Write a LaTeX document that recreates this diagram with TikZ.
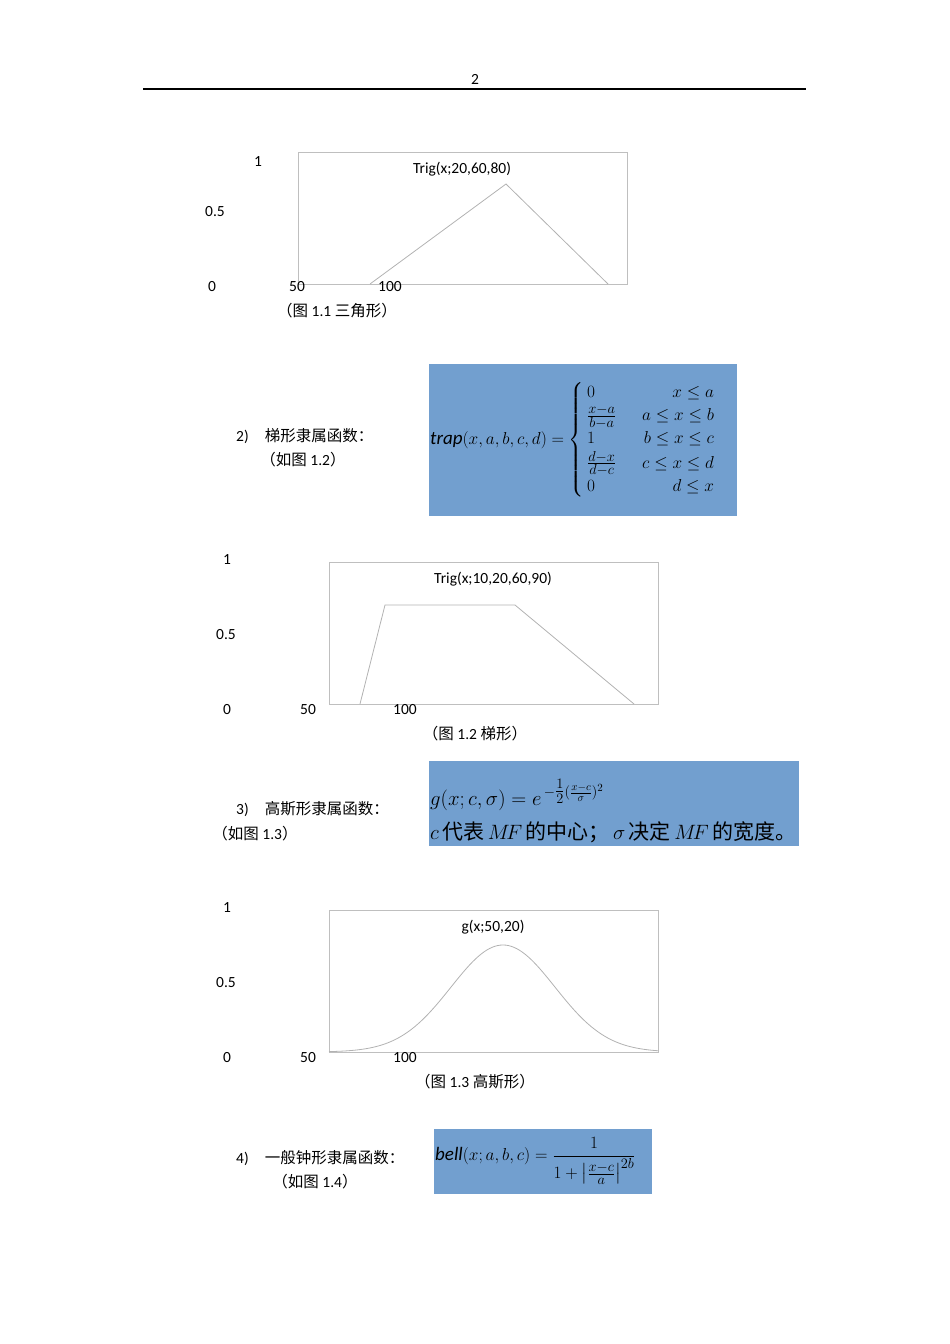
\documentclass[tikz,border=0pt]{standalone}
\usepackage{amsmath}
\usepackage{fontspec}
\setmainfont{Carlito}
\newfontfamily\cjk{Noto Sans CJK SC}
\tikzset{lab/.style={font=\fontsize{15.5}{17}\selectfont,inner sep=0pt},
 frame/.style={draw=black!25,line width=0.8pt},
 curve/.style={draw=black!30,line width=0.8pt},
 capt/.style={font=\fontsize{15.5}{17}\selectfont,inner sep=0pt}}
\definecolor{blueF}{RGB}{114,159,207}
\begin{document}
\begin{tikzpicture}[x=1pt,y=-1pt]
\useasboundingbox (0,0) rectangle (950,1344);
\node[lab] (pg) at (475,79) {2};
\coordinate (hl) at (143,89); \coordinate (hr) at (806,89);
\draw[line width=1.2pt] (hl) -- (hr);
% chart 1
\draw[frame] (298,152) rectangle (627,284);
\node[lab] (a1) at (258,162) {1};
\node[lab] (a2) at (215,212) {0.5};
\node[lab] (a3) at (212,287) {0};
\node[lab] (a4) at (297,287) {50};
\node[lab] (a5) at (390,287) {100};
\node[lab] (t1) at (462,169) {Trig(x;20,60,80)};
\draw[curve] (370,284) -- (506,184) -- (608,284);
\node[capt] (c1) at (337,311) {{\cjk （图} 1.1 {\cjk 三角形）}};
% box 2
\fill[blueF] (429,364) rectangle (737,516);
\node[inner sep=0pt,anchor=west] (f2) at (430,440) {\fontsize{19}{22}\selectfont $\mathit{trap}(x,a,b,c,d)=\left\{\begin{array}{@{\,}l@{\hspace{26pt}}r@{}} 0 & x\le a\\[1pt] \frac{x-a}{b-a} & a\le x\le b\\[1pt] 1 & b\le x\le c\\[1pt] \frac{d-x}{d-c} & c\le x\le d\\[1pt] 0 & d\le x\end{array}\right.$};
\node[lab,anchor=west] (l2) at (236,436) {2)\hspace{16pt}{\cjk 梯形隶属函数：}};
\node[lab] (l2b) at (303,460) {{\cjk （如图} 1.2{\cjk ）}};
% chart 2
\draw[frame] (329,562) rectangle (658,704);
\node[lab] (b1) at (227,560) {1};
\node[lab] (b2) at (226,635) {0.5};
\node[lab] (b3) at (227,710) {0};
\node[lab] (b4) at (308,710) {50};
\node[lab] (b5) at (405,710) {100};
\node[lab] (t2) at (493,579) {Trig(x;10,20,60,90)};
\draw[curve] (360,704) -- (385,605) -- (515,605) -- (634,704);
\node[capt] (c2) at (475,734) {{\cjk （图} 1.2 {\cjk 梯形）}};
% box 3
\fill[blueF] (429,761) rectangle (799,846);
\node[inner sep=0pt,anchor=west] (f3) at (430,795) {\fontsize{22}{24}\selectfont $g(x;c,\sigma)=e^{\,-\tfrac{1}{2}(\frac{x-c}{\sigma})^2}$};
\node[inner sep=0pt,anchor=west] (f3b) at (430,832) {\fontsize{21}{24}\selectfont $c$\,{\cjk 代表}$\,M\!F\,${\cjk 的中心；}\,$\sigma$\,{\cjk 决定}$\,M\!F\,${\cjk 的宽度。}};
\node[lab,anchor=west] (l3) at (236,809) {3)\hspace{16pt}{\cjk 高斯形隶属函数：}};
\node[lab] (l3b) at (255,834) {{\cjk （如图} 1.3{\cjk ）}};
% chart 3
\draw[frame] (329,910) rectangle (658,1052);
\node[lab] (d1) at (227,908) {1};
\node[lab] (d2) at (226,983) {0.5};
\node[lab] (d3) at (227,1058) {0};
\node[lab] (d4) at (308,1058) {50};
\node[lab] (d5) at (405,1058) {100};
\node[lab] (t3) at (493,927) {g(x;50,20)};
\draw[curve] plot[domain=329:658,samples=120,smooth] (\x,{1052-107*exp(-((\x-503)/52)^2/2)});
\node[capt] (c3) at (475,1082) {{\cjk （图} 1.3 {\cjk 高斯形）}};
% box 4
\fill[blueF] (434,1129) rectangle (652,1194);
\node[inner sep=0pt,anchor=west] (f4) at (435,1161) {\fontsize{19}{22}\selectfont $\mathit{bell}(x;a,b,c)=\dfrac{1}{1+\left|\frac{x-c}{a}\right|^{2b}}$};
\node[lab,anchor=west] (l4) at (236,1158) {4)\hspace{16pt}{\cjk 一般钟形隶属函数：}};
\node[lab] (l4b) at (315,1182) {{\cjk （如图} 1.4{\cjk ）}};
\end{tikzpicture}
\end{document}
